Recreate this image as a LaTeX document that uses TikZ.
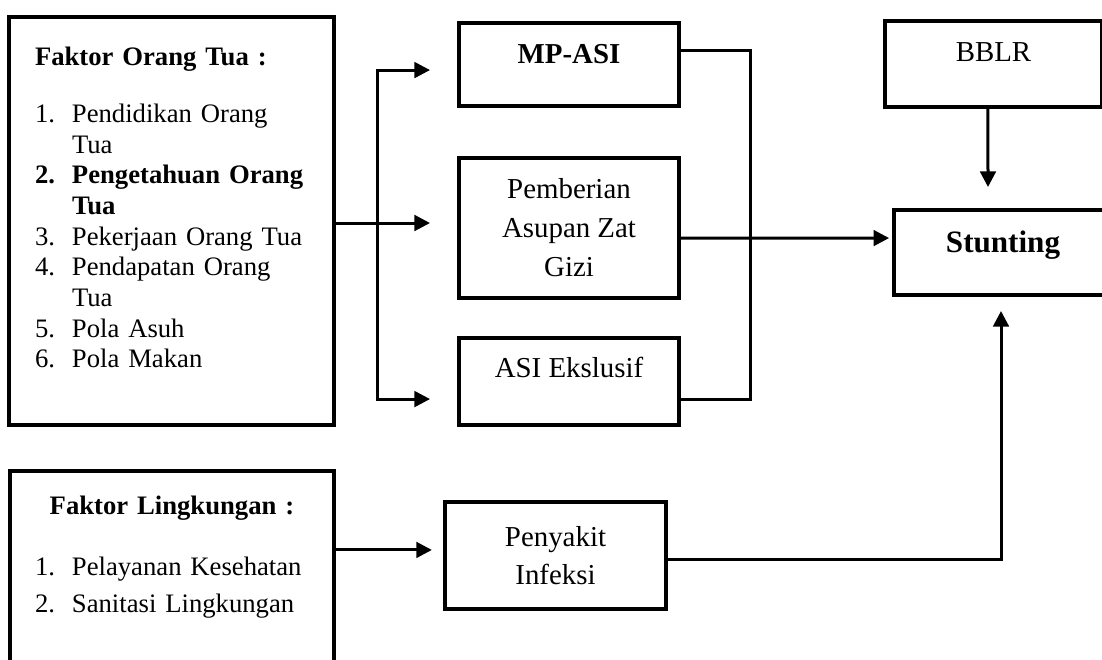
\documentclass[tikz,border=0pt]{standalone}
\usepackage{fontspec}
\setmainfont{Liberation Serif}
\usetikzlibrary{arrows.meta}
\newcommand{\itm}[1]{\makebox[16.65pt][l]{#1}}

\begin{document}
\begin{tikzpicture}[
    x=0.45pt, y=-0.45pt,
    >={Triangle[length=7pt, width=7pt]},
    box/.style={draw, line width=1.8pt, inner sep=0pt, anchor=north west, font=\fontsize{13}{17.55}\selectfont},
    factor/.style={draw, line width=1.8pt, inner ysep=0pt, anchor=north west, align=left},
    link/.style={line width=1.35pt},
]
    \useasboundingbox (0,0) rectangle (1102,659);

    % factor boxes on the left
    \node[factor, inner xsep=11.7pt, text width=122.85pt, text height=21.6pt, text depth=162pt,
          font=\fontsize{12}{13.8}\selectfont] (ortu) at (7,15) {%
        \textbf{Faktor Orang Tua :}\\[12pt]
        \itm{1.}Pendidikan Orang\\
        \itm{}Tua\\
        \textbf{\itm{2.}Pengetahuan Orang}\\
        \textbf{\itm{}Tua}\\
        \itm{3.}Pekerjaan Orang Tua\\
        \itm{4.}Pendapatan Orang\\
        \itm{}Tua\\
        \itm{5.}Pola Asuh\\
        \itm{6.}Pola Makan};
    \node[factor, inner xsep=11.25pt, text width=123.3pt, text height=19.35pt, text depth=80.1pt,
          font=\fontsize{12}{16.65}\selectfont] (lingk) at (8,469) {%
        \makebox[123.3pt]{\textbf{Faktor Lingkungan :}}\\[10.8pt]
        \itm{1.}Pelayanan Kesehatan\\
        \itm{2.}Sanitasi Lingkungan};

    % middle boxes
    \node[box, minimum width=99pt, text height=18pt, text depth=19.35pt, font=\fontsize{13}{17.55}\selectfont\bfseries] (mpasi) at (457,21) {MP-ASI};
    \node[box, minimum width=99pt, minimum height=63pt, align=center] (gizi) at (457,156) {Pemberian\\Asupan Zat\\Gizi};
    \node[box, minimum width=99pt, text height=17.55pt, text depth=21.6pt] (asi) at (457,336) {ASI Ekslusif};
    \node[box, minimum width=99.45pt, minimum height=48.15pt, align=center, font=\fontsize{13}{17.1}\selectfont] (penyakit) at (443,500) {Penyakit\\Infeksi};

    % right boxes
    \node[box, minimum width=97.65pt, text height=18pt, text depth=20.7pt] (bblr) at (883,19) {BBLR};
    \node[box, minimum width=98.1pt, text height=18.9pt, text depth=19.35pt, font=\fontsize{14}{17}\selectfont\bfseries] (stunting) at (892,208) {Stunting};

    \coordinate (busL) at (377,223);
    \coordinate (busR) at (750,223);
    \coordinate (infIn) at ([yshift=2.5pt]penyakit.west);

    % connectors
    \draw[link, ->, shorten >=12.15pt] (ortu.east |- busL) -- (busL -| gizi.west);
    \draw[link, ->, shorten >=12.15pt] (busL) |- ([yshift=-2.5pt]mpasi.west);
    \draw[link, ->, shorten >=12.15pt] (busL) |- ([yshift=-7.9pt]asi.west);
    \draw[link] ([yshift=6.5pt]mpasi.east) -| (busR) |- ([yshift=-7.9pt]asi.east);
    \draw[link, ->, shorten >=1.3pt] ([yshift=-4.5pt]gizi.east) -- ([yshift=6.5pt]stunting.west);
    \draw[link, ->, shorten >=9.45pt] ([xshift=-2.5pt]bblr.south) -- ([xshift=-6.75pt]stunting.north);
    \draw[link, ->, shorten >=5pt] (lingk.east |- infIn) -- (infIn);
    \draw[link, ->, shorten >=6.3pt] ([yshift=-1.6pt]penyakit.east) -| ([xshift=-0.9pt]stunting.south);
\end{tikzpicture}
\end{document}
